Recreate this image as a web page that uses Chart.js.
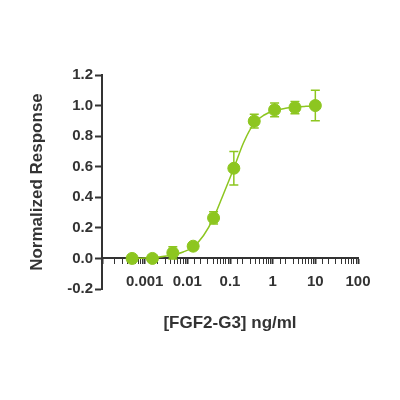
<!DOCTYPE html>
<html>
<head>
<meta charset="utf-8">
<script src="https://cdn.jsdelivr.net/npm/chart.js@4/dist/chart.umd.min.js"></script>
<style>
  html, body { margin: 0; padding: 0; background: #ffffff; }
  #wrap { width: 400px; height: 400px; }
</style>
</head>
<body>
<div id="wrap"><canvas id="c" width="400" height="400"></canvas></div>
<script>
// Measured data (3-fold dilution series)
const doses = [0.000508, 0.00152, 0.00457, 0.0137, 0.0412, 0.123, 0.370, 1.11, 3.33, 10];
const means = [0.0, 0.0, 0.037, 0.08, 0.265, 0.59, 0.898, 0.972, 0.987, 1.0];
const errors = [0.005, 0.005, 0.04, 0.01, 0.04, 0.11, 0.045, 0.045, 0.04, 0.1];

// Fitted curve
const curveX = [0.000508, 0.001, 0.002, 0.00457, 0.008, 0.0137, 0.024, 0.0412, 0.07, 0.123, 0.21, 0.37, 0.65, 1.11, 2, 3.33, 6, 10];
const curveY = [0.0, 0.003, 0.008, 0.022, 0.042, 0.075, 0.15, 0.265, 0.42, 0.59, 0.76, 0.885, 0.94, 0.968, 0.982, 0.99, 0.995, 0.998];

// Axis ticks
const yTicks = [-0.2, 0, 0.2, 0.4, 0.6, 0.8, 1.0, 1.2];
const xLabelled = [0.001, 0.01, 0.1, 1, 10, 100];

const xTitle = '[FGF2-G3] ng/ml';
const yTitle = 'Normalized Response';

const GREEN = '#8dc620';
const INK = '#333333';
const FONT = '"Liberation Sans", Arial, Helvetica, sans-serif';

const errorBars = {
  id: 'errorBars',
  beforeDatasetDraw(chart, args) {
    if (args.index !== 1) return;
    const {ctx, scales: {x, y}} = chart;
    ctx.save();
    ctx.strokeStyle = GREEN;
    ctx.lineWidth = 1.5;
    for (let i = 0; i < doses.length; i++) {
      const px = x.getPixelForValue(doses[i]);
      const top = y.getPixelForValue(means[i] + errors[i]);
      const bot = y.getPixelForValue(means[i] - errors[i]);
      ctx.beginPath();
      ctx.moveTo(px, top); ctx.lineTo(px, bot);
      ctx.moveTo(px - 4.5, top); ctx.lineTo(px + 4.5, top);
      ctx.moveTo(px - 4.5, bot); ctx.lineTo(px + 4.5, bot);
      ctx.stroke();
    }
    ctx.restore();
  }
};

function isDecade(v) {
  const l = Math.log10(v);
  return Math.abs(l - Math.round(l)) < 1e-6;
}

new Chart(document.getElementById('c'), {
  data: {
    datasets: [
      {
        type: 'line',
        data: curveX.map((v, i) => ({x: v, y: curveY[i]})),
        borderColor: GREEN,
        borderWidth: 1.5,
        pointRadius: 0,
        cubicInterpolationMode: 'monotone',
        fill: false
      },
      {
        type: 'scatter',
        data: doses.map((v, i) => ({x: v, y: means[i]})),
        backgroundColor: GREEN,
        borderColor: GREEN,
        pointRadius: 6,
        pointHoverRadius: 6
      }
    ]
  },
  options: {
    responsive: false,
    animation: false,
    events: [],
    clip: false,
    layout: { padding: { left: 0, top: 75, right: 42, bottom: 111 } },
    plugins: { legend: { display: false }, tooltip: { enabled: false } },
    scales: {
      x: {
        type: 'logarithmic',
        position: { y: 0 },
        min: 0.0001,
        max: 100,
        offset: false,
        border: { display: true, color: INK, width: 2 },
        grid: {
          drawOnChartArea: false,
          drawTicks: true,
          tickLength: 5,
          tickColor: INK,
          tickWidth: (ctx) => (ctx.tick && isDecade(ctx.tick.value) ? 2 : 1)
        },
        ticks: {
          autoSkip: false,
          maxRotation: 0,
          padding: 9,
          color: INK,
          font: { family: FONT, size: 15, weight: 'bold' },
          callback: (v) => {
            for (const t of xLabelled) {
              if (Math.abs(v - t) / t < 1e-6) return String(t);
            }
            return '';
          }
        },
        title: {
          display: true,
          text: xTitle,
          color: INK,
          font: { family: FONT, size: 17, weight: 'bold' },
          padding: { top: 14, bottom: 0 }
        }
      },
      y: {
        type: 'linear',
        position: 'left',
        min: -0.2,
        max: 1.2,
        afterFit: (s) => { s.width = 102; },
        afterBuildTicks: (s) => { s.ticks = yTicks.map(v => ({value: v})); },
        border: { display: true, color: INK, width: 2 },
        grid: {
          drawOnChartArea: false,
          drawTicks: true,
          tickLength: 7,
          tickColor: INK,
          tickWidth: 2
        },
        ticks: {
          padding: 2,
          color: INK,
          font: { family: FONT, size: 15, weight: 'bold' },
          callback: (v) => Number(v).toFixed(1)
        },
        title: {
          display: true,
          text: yTitle,
          color: INK,
          font: { family: FONT, size: 17, weight: 'bold' },
          padding: { top: 27, bottom: 0 }
        }
      }
    }
  },
  plugins: [errorBars]
});
</script>
</body>
</html>
